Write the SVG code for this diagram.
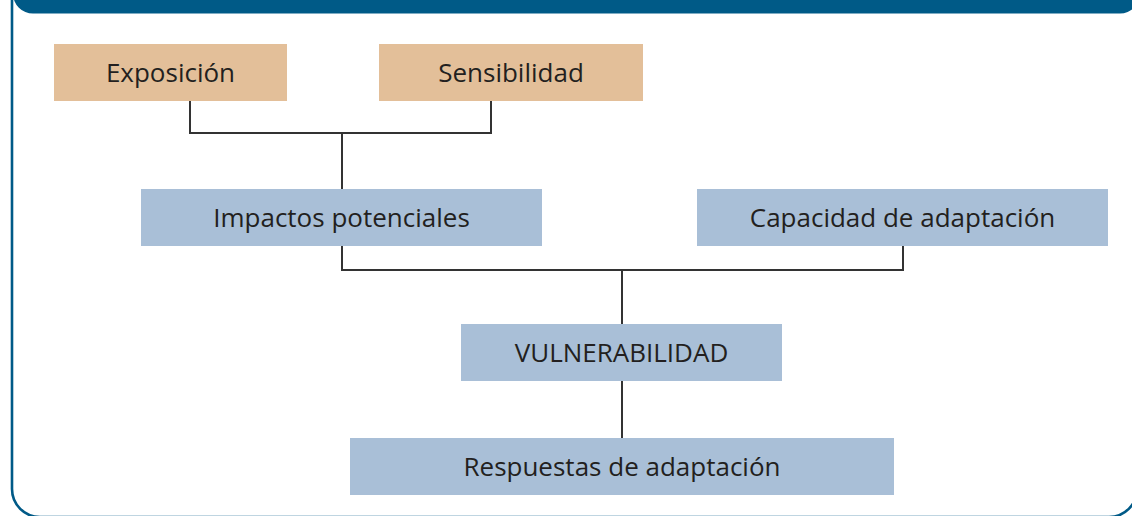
<svg xmlns="http://www.w3.org/2000/svg" width="1132" height="516" viewBox="0 0 1132 516">
<style>
.frame{fill:none;stroke:#005a87;stroke-width:2.6}
.tan{fill:#e3bf99}
.blue{fill:#a9bfd7}
.lbl{font-family:"Open Sans","Noto Sans",sans-serif;font-size:26px;fill:#231f20;text-anchor:middle;dominant-baseline:central}
.conn{fill:none;stroke:#333333;stroke-width:2}
</style>
<rect width="1132" height="516" fill="#ffffff"/>
<g id="frame">
<rect class="frame" x="12" y="-40" width="1125" height="557" rx="28" ry="28"/>
<path d="M12,-10 H1140 V-6.5 A20,20 0 0 1 1120,13.5 H33 A20,20 0 0 1 13,-6.5 Z" fill="#005a87"/>
</g>
<g id="connectors">
<path class="conn" d="M190,101 V133 H491 V101"/>
<path class="conn" d="M342,133 V189"/>
<path class="conn" d="M342,246 V270 H903 V246"/>
<path class="conn" d="M622,270 V324"/>
<path class="conn" d="M622,381 V438"/>
</g>
<g id="exposicion"><rect class="tan" x="54" y="44" width="233" height="57"/><text class="lbl" x="170.5" y="72">Exposición</text></g>
<g id="sensibilidad"><rect class="tan" x="379" y="44" width="264" height="57"/><text class="lbl" x="511" y="72">Sensibilidad</text></g>
<g id="impactos"><rect class="blue" x="141" y="189" width="401" height="57"/><text class="lbl" x="341.5" y="217">Impactos potenciales</text></g>
<g id="capacidad"><rect class="blue" x="697" y="189" width="411" height="57"/><text class="lbl" x="902.5" y="217">Capacidad de adaptación</text></g>
<g id="vulnerabilidad"><rect class="blue" x="461" y="324" width="321" height="57"/><text class="lbl" x="621.5" y="352">VULNERABILIDAD</text></g>
<g id="respuestas"><rect class="blue" x="350" y="438" width="544" height="57"/><text class="lbl" x="622" y="466">Respuestas de adaptación</text></g>
</svg>
